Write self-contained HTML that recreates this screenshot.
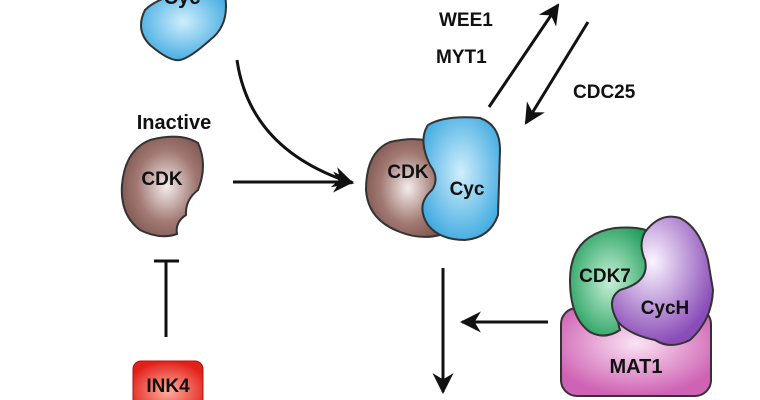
<!DOCTYPE html>
<html><head><meta charset="utf-8"><style>
html,body{margin:0;padding:0;background:#fff}
svg{display:block}
text{font-family:"Liberation Sans",sans-serif;font-weight:bold;fill:#111}
</style></head><body>
<svg width="760" height="400" viewBox="0 0 760 400" xmlns="http://www.w3.org/2000/svg">
<defs>
<radialGradient id="brown" cx="0.55" cy="0.5" r="0.6"><stop offset="0" stop-color="#f4eceb"/><stop offset="0.6" stop-color="#a27a73"/><stop offset="1" stop-color="#7e5650"/></radialGradient>
<radialGradient id="blue" cx="0.5" cy="0.45" r="0.6"><stop offset="0" stop-color="#cfeefc"/><stop offset="1" stop-color="#3ea9e0"/></radialGradient>
<radialGradient id="green" cx="0.5" cy="0.5" r="0.6"><stop offset="0" stop-color="#c8f0d8"/><stop offset="1" stop-color="#1f9e5a"/></radialGradient>
<radialGradient id="purple" cx="0.4" cy="0.35" r="0.65"><stop offset="0" stop-color="#fbf4ff"/><stop offset="1" stop-color="#8a4cb8"/></radialGradient>
<radialGradient id="pink" cx="0.5" cy="0.4" r="0.6"><stop offset="0" stop-color="#fbe4f4"/><stop offset="1" stop-color="#cf62b4"/></radialGradient>
<radialGradient id="red" cx="0.5" cy="0.6" r="0.6"><stop offset="0" stop-color="#ffb0a0"/><stop offset="1" stop-color="#e2201a"/></radialGradient>
<marker id="ah" viewBox="0 0 10 10" refX="9" refY="5" markerWidth="7" markerHeight="7" orient="auto"><path d="M0,0 L10,5 L0,10 L3,5 z" fill="#111"/></marker>
</defs>

<path d="M145,10 Q160,-5 200,-10 L225,-5 Q230,25 210,40 Q190,58 180,60 Q170,62 150,45 Q135,30 145,10 z" fill="url(#blue)" stroke="#333" stroke-width="2"/>
<text x="182" y="4" font-size="20" text-anchor="middle">Cyc</text>

<path d="M237,60 Q250,150 352,183" fill="none" stroke="#111" stroke-width="3" marker-end="url(#ah)"/>
<line x1="233" y1="182" x2="352" y2="182" stroke="#111" stroke-width="3" marker-end="url(#ah)"/>

<text x="174" y="129" font-size="20" text-anchor="middle">Inactive</text>
<path d="M150,140 Q180,132 198,143 Q208,165 198,190 Q185,200 186,215 Q175,222 177,234 Q160,240 140,230 Q120,215 122,185 Q125,150 150,140 z" fill="url(#brown)" stroke="#333" stroke-width="2"/>
<text x="162" y="185" font-size="19" text-anchor="middle">CDK</text>

<line x1="166" y1="262" x2="166" y2="337" stroke="#111" stroke-width="3"/>
<line x1="154" y1="261" x2="179" y2="261" stroke="#111" stroke-width="3"/>
<rect x="133" y="361" width="70" height="50" rx="8" fill="url(#red)" stroke="#b01010" stroke-width="1"/>
<text x="168" y="392" font-size="19" text-anchor="middle">INK4</text>

<path d="M390,142 Q420,135 440,145 Q445,175 440,200 L440,235 Q420,240 400,232 Q368,220 366,190 Q366,152 390,142 z" fill="url(#brown)" stroke="#333" stroke-width="2"/>
<path d="M428,125 Q445,115 480,118 Q500,125 500,150 L498,215 Q490,238 465,240 Q440,240 428,225 Q415,205 432,190 Q440,178 430,165 Q418,140 428,125 z" fill="url(#blue)" stroke="#333" stroke-width="2"/>
<text x="408" y="178" font-size="19" text-anchor="middle">CDK</text>
<text x="467" y="195" font-size="19" text-anchor="middle">Cyc</text>

<text x="439" y="26" font-size="19">WEE1</text>
<text x="436" y="63" font-size="19">MYT1</text>
<text x="573" y="98" font-size="19">CDC25</text>
<line x1="489" y1="107" x2="558" y2="5" stroke="#111" stroke-width="3" marker-end="url(#ah)"/>
<line x1="588" y1="22" x2="526" y2="123" stroke="#111" stroke-width="3" marker-end="url(#ah)"/>

<line x1="443" y1="268" x2="443" y2="392" stroke="#111" stroke-width="3" marker-end="url(#ah)"/>
<line x1="548" y1="322" x2="462" y2="322" stroke="#111" stroke-width="3" marker-end="url(#ah)"/>

<rect x="561" y="308" width="150" height="88" rx="16" fill="url(#pink)" stroke="#333" stroke-width="2"/>
<path d="M570,280 Q570,235 615,228 Q640,226 650,232 L648,290 Q610,300 620,330 Q605,340 590,332 Q570,318 570,280 z" fill="url(#green)" stroke="#333" stroke-width="2"/>
<path d="M645,232 Q660,212 680,218 Q700,228 708,260 L713,290 Q712,320 690,340 Q670,350 655,340 Q630,335 618,322 Q605,300 620,290 Q650,282 645,260 Q638,245 645,232 z" fill="url(#purple)" stroke="#333" stroke-width="2"/>
<text x="605" y="282" font-size="19" text-anchor="middle">CDK7</text>
<text x="665" y="314" font-size="19" text-anchor="middle">CycH</text>
<text x="636" y="373" font-size="20" text-anchor="middle">MAT1</text>
</svg>
</body></html>
